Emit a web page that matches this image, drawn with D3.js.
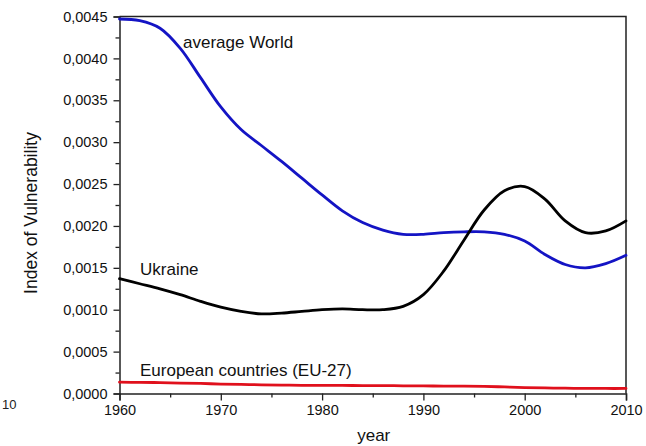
<!DOCTYPE html>
<html>
<head>
<meta charset="utf-8">
<script src="https://cdn.jsdelivr.net/npm/d3@7"></script>
<style>
  html, body { margin: 0; padding: 0; background: #fff; }
  svg { display: block; font-family: "Liberation Sans", Arial, sans-serif; }
</style>
</head>
<body>
<svg id="chart" width="646" height="446"></svg>
<script>
// Years sampled every two years
const years = [1960, 1962, 1964, 1966, 1968, 1970, 1972, 1974, 1976, 1978, 1980, 1982, 1984,
               1986, 1988, 1990, 1992, 1994, 1996, 1998, 2000, 2002, 2004, 2006, 2008, 2010];

// Index of vulnerability, average over the world
const worldValues = [0.00447, 0.00445, 0.00436, 0.00412, 0.00377, 0.00342, 0.00315, 0.00296,
                     0.00277, 0.00257, 0.00237, 0.00218, 0.00204, 0.00195, 0.00190, 0.00190,
                     0.00192, 0.00193, 0.00193, 0.00190, 0.00182, 0.00166, 0.00154, 0.00150,
                     0.00155, 0.00165];

// Index of vulnerability, Ukraine
const ukraineValues = [0.00137, 0.00131, 0.00125, 0.00118, 0.00110, 0.00103, 0.00098, 0.00095,
                       0.00096, 0.00098, 0.00100, 0.00101, 0.00100, 0.00100, 0.00104, 0.00118,
                       0.00146, 0.00183, 0.00219, 0.00242, 0.00247, 0.00232, 0.00206, 0.00192,
                       0.00194, 0.00206];

// Index of vulnerability, EU-27
const euValues = [0.000135, 0.000133, 0.000130, 0.000125, 0.000120, 0.000113, 0.000108, 0.000104,
                  0.000100, 0.000098, 0.000097, 0.000096, 0.000095, 0.000094, 0.000092, 0.000090,
                  0.000089, 0.000088, 0.000085, 0.000078, 0.000070, 0.000066, 0.000063, 0.000061,
                  0.000060, 0.000060];

const seriesNames = ["average World", "Ukraine", "European countries (EU-27)"];

const xTicks = [1960, 1970, 1980, 1990, 2000, 2010];
const xMinorTicks = [1965, 1975, 1985, 1995, 2005];
const yTicks = [0, 0.0005, 0.0010, 0.0015, 0.0020, 0.0025, 0.0030, 0.0035, 0.0040, 0.0045];
const yMinorTicks = [0.00025, 0.00075, 0.00125, 0.00175, 0.00225, 0.00275, 0.00325, 0.00375, 0.00425];

const svg = d3.select("#chart");
const plotL = 119.5, plotR = 626, plotT = 16.5, plotB = 393.5;

const x = d3.scaleLinear().domain([1960, 2010]).range([plotL, plotR]);
const y = d3.scaleLinear().domain([0, 0.0045]).range([plotB, plotT]);

const fmtY = v => d3.format(".4f")(v).replace(".", ",");

// frame (top and right edges)
svg.append("path")
  .attr("d", `M${plotL},${plotT}H${plotR}V${plotB}`)
  .attr("fill", "none").attr("stroke", "#222").attr("stroke-width", 1.5);

// x axis
svg.append("g").attr("transform", `translate(0,${plotB})`)
  .call(d3.axisBottom(x).tickValues(xTicks).tickFormat(d3.format("d")).tickSize(7).tickPadding(4));
svg.append("g").attr("transform", `translate(0,${plotB})`)
  .call(d3.axisBottom(x).tickValues(xMinorTicks).tickFormat("").tickSize(4))
  .call(g => g.select(".domain").remove());

// y axis
svg.append("g").attr("transform", `translate(${plotL},0)`)
  .call(d3.axisLeft(y).tickValues(yTicks).tickFormat(fmtY).tickSize(6).tickPadding(6));
svg.append("g").attr("transform", `translate(${plotL},0)`)
  .call(d3.axisLeft(y).tickValues(yMinorTicks).tickFormat("").tickSize(4))
  .call(g => g.select(".domain").remove());

svg.selectAll(".domain").attr("stroke", "#222").attr("stroke-width", 1.5);
svg.selectAll(".tick line").attr("stroke", "#222").attr("stroke-width", 1.3);
svg.selectAll(".tick text").attr("fill", "#111").style("font-size", "14.5px")
  .style("font-family", "'Liberation Sans', Arial, sans-serif");

// axis titles
svg.append("text").attr("x", (plotL + plotR) / 2 + 1).attr("y", 441)
  .attr("text-anchor", "middle").attr("fill", "#111").style("font-size", "17px").text("year");
svg.append("text").attr("transform", `translate(37,${(plotT + plotB) / 2 + 8}) rotate(-90)`)
  .attr("text-anchor", "middle").attr("fill", "#111").style("font-size", "17.5px")
  .text("Index of Vulnerability");

// series lines
const line = d3.line().x((d, i) => x(years[i])).y(d => y(d)).curve(d3.curveCatmullRom.alpha(0.5));
const series = [
  { values: euValues, color: "#e0101c" },
  { values: worldValues, color: "#1414c4" },
  { values: ukraineValues, color: "#000000" }
];
svg.selectAll("path.series").data(series).join("path")
  .attr("class", "series")
  .attr("d", d => line(d.values))
  .attr("fill", "none").attr("stroke", d => d.color).attr("stroke-width", 2.8)
  .attr("stroke-linejoin", "round").attr("stroke-linecap", "round");

// series labels
const labelPos = [[183, 48], [140, 275], [140, 376]];
svg.selectAll("text.lbl").data(seriesNames).join("text")
  .attr("class", "lbl")
  .attr("x", (d, i) => labelPos[i][0]).attr("y", (d, i) => labelPos[i][1])
  .attr("fill", "#111").style("font-size", "17px").text(d => d);

// fragment of a neighbouring axis label at the left edge
svg.append("text").attr("x", 2).attr("y", 409).attr("fill", "#222")
  .style("font-size", "13px").text("10");
</script>
</body>
</html>
